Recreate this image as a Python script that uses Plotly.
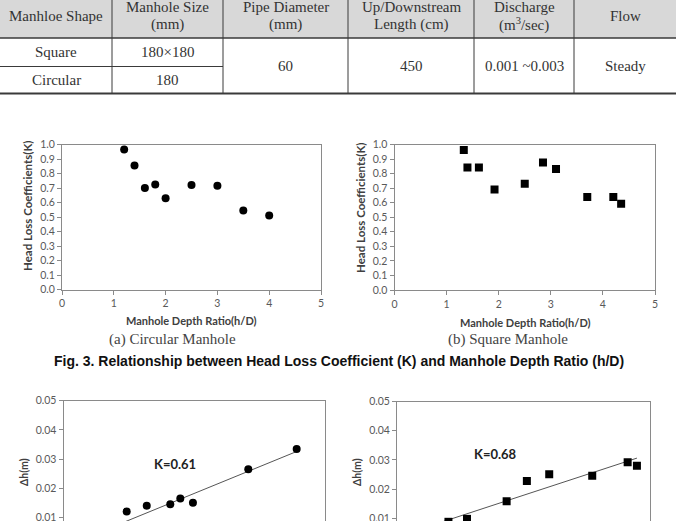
import plotly.graph_objects as go

W, H = 676, 521

# ---------------- Table data ----------------
table_headers = [["Manhloe Shape"], ["Manhole Size", "(mm)"], ["Pipe Diameter", "(mm)"],
                 ["Up/Downstream", "Length (cm)"], ["Discharge", "(m<sup>3</sup>/sec)"], ["Flow"]]
manhole_shapes = ["Square", "Circular"]
manhole_sizes = ["180×180", "180"]
pipe_diameter = "60"
updown_length = "450"
discharge = "0.001 ~0.003"
flow_type = "Steady"

# ---------------- Fig. 3 data ----------------
circ_hd = [1.2, 1.4, 1.6, 1.8, 2.0, 2.5, 3.0, 3.5, 4.0]
circ_K = [0.965, 0.855, 0.70, 0.725, 0.63, 0.72, 0.715, 0.545, 0.51]
sq_hd = [1.33, 1.4, 1.62, 1.92, 2.5, 2.85, 3.1, 3.7, 4.2, 4.35]
sq_K = [0.963, 0.842, 0.842, 0.69, 0.73, 0.876, 0.832, 0.64, 0.64, 0.592]

# ---------------- Fig. 4 data (velocity head vs head loss) ----------------
circ_vh = [0.0145, 0.0191, 0.0245, 0.0268, 0.0297, 0.0424, 0.0535]
circ_dh = [0.0121, 0.0141, 0.0146, 0.0166, 0.0151, 0.0266, 0.0335]
sq_vh = [0.0122, 0.0166, 0.0260, 0.0308, 0.0361, 0.0463, 0.0547, 0.0569]
sq_dh = [0.0088, 0.0098, 0.0158, 0.0228, 0.0251, 0.0246, 0.0292, 0.0280]
circ_trend = (0.61, 0.0)       # slope, intercept
sq_trend = (0.473, 0.0037)
k_labels = ["K=0.61", "K=0.68"]

captions = ["(a) Circular Manhole", "(b) Square Manhole"]
fig_caption = "Fig. 3. Relationship between Head Loss Coefficient (K) and Manhole Depth Ratio (h/D)"


def px(x):
    return x / W


def py(y):
    return 1 - y / H


fig = go.Figure()

# ---------- table drawn with shapes/annotations ----------
col_edges = [0, 112, 223, 348, 474, 574, 676]
hdr_bottom, row_mid, tbl_bottom = 38, 66.5, 93.5
shapes = []
annotations = []
shapes.append(dict(type="rect", xref="paper", yref="paper", x0=0, x1=1,
                   y0=py(hdr_bottom), y1=1, fillcolor="#d8d8d8", line=dict(width=0), layer="below"))
for xe in col_edges[1:-1]:
    shapes.append(dict(type="line", xref="paper", yref="paper", x0=px(xe), x1=px(xe),
                       y0=py(0), y1=py(tbl_bottom), line=dict(color="#3a3a3a", width=1)))
shapes.append(dict(type="line", xref="paper", yref="paper", x0=0, x1=1,
                   y0=py(hdr_bottom), y1=py(hdr_bottom), line=dict(color="#3a3a3a", width=1.5)))
shapes.append(dict(type="line", xref="paper", yref="paper", x0=0, x1=px(col_edges[2]),
                   y0=py(row_mid), y1=py(row_mid), line=dict(color="#3a3a3a", width=1)))
shapes.append(dict(type="line", xref="paper", yref="paper", x0=0, x1=1,
                   y0=py(tbl_bottom), y1=py(tbl_bottom), line=dict(color="#3a3a3a", width=2)))

serif = dict(family="Liberation Serif", size=15, color="#333333")


def put(text, xc, yc, font, **kw):
    d = dict(text=text, x=px(xc), y=py(yc), xref="paper", yref="paper", showarrow=False,
             font=font, xanchor="center", yanchor="middle")
    d.update(kw)
    annotations.append(d)


for i, lines in enumerate(table_headers):
    xc = (col_edges[i] + col_edges[i + 1]) / 2
    if len(lines) == 1:
        put(lines[0], xc, 15.5, serif)
    else:
        put(lines[0], xc, 7.5, serif)
        put(lines[1], xc, 24.5, serif)

row_centers = [(hdr_bottom + row_mid) / 2, (row_mid + tbl_bottom) / 2]
for r in range(2):
    for c, txt in enumerate([manhole_shapes[r], manhole_sizes[r]]):
        xc = (col_edges[c] + col_edges[c + 1]) / 2
        put(txt, xc, row_centers[r], serif)
for c, txt in zip(range(2, 6), [pipe_diameter, updown_length, discharge, flow_type]):
    xc = (col_edges[c] + col_edges[c + 1]) / 2
    put(txt, xc, (hdr_bottom + tbl_bottom) / 2, serif)

# ---------- scatter traces ----------
fig.add_trace(go.Scatter(x=circ_hd, y=circ_K, mode="markers", xaxis="x", yaxis="y",
                         marker=dict(symbol="circle", size=8, color="black"), showlegend=False))
fig.add_trace(go.Scatter(x=sq_hd, y=sq_K, mode="markers", xaxis="x2", yaxis="y2",
                         marker=dict(symbol="square", size=8, color="black"), showlegend=False))

for (vh, dh, trend, sym, xa, ya) in [(circ_vh, circ_dh, circ_trend, "circle", "x3", "y3"),
                                      (sq_vh, sq_dh, sq_trend, "square", "x4", "y4")]:
    xs = [0, max(vh)]
    ys = [trend[0] * v + trend[1] for v in xs]
    fig.add_trace(go.Scatter(x=xs, y=ys, mode="lines", xaxis=xa, yaxis=ya,
                             line=dict(color="#555555", width=1), showlegend=False))
    fig.add_trace(go.Scatter(x=vh, y=dh, mode="markers", xaxis=xa, yaxis=ya,
                             marker=dict(symbol=sym, size=8, color="black"), showlegend=False))

tickfont = dict(family="Lato", size=10.5, color="#595959")
base = dict(showline=True, linecolor="#8a8a8a", linewidth=1, mirror=True, ticks="outside",
            ticklen=4, tickcolor="#8a8a8a", showgrid=False, zeroline=False,
            tickfont=tickfont, automargin=False)

layout_axes = dict(
    xaxis=dict(base, domain=[px(62), px(321)], range=[0, 5], dtick=1, anchor="y"),
    yaxis=dict(base, domain=[py(289.5), py(144.5)], range=[0, 1], dtick=0.1, tickformat=".1f", anchor="x"),
    xaxis2=dict(base, domain=[px(394.5), px(655)], range=[0, 5], dtick=1, anchor="y2"),
    yaxis2=dict(base, domain=[py(290), py(144.5)], range=[0, 1], dtick=0.1, tickformat=".1f", anchor="x2"),
    xaxis3=dict(base, domain=[px(63.5), px(325)], range=[0, 0.06], anchor="y3",
                showticklabels=False, ticks=""),
    yaxis3=dict(base, domain=[0, py(400.7)], range=[0.05 - (H - 400.7) / 2925, 0.05], dtick=0.01,
                tickformat=".2f", anchor="x3", ticklabeloverflow="allow"),
    xaxis4=dict(base, domain=[px(397), px(650)], range=[0, 0.06], anchor="y4",
                showticklabels=False, ticks=""),
    yaxis4=dict(base, domain=[0, py(401.5)], range=[0.05 - (H - 401.5) / 2920, 0.05], dtick=0.01,
                tickformat=".2f", anchor="x4", ticklabeloverflow="allow"),
)

ytitle_font = dict(family="Lato", size=11.5, color="#404040", weight="bold")
xtitle_font = dict(family="Lato", size=11, color="#404040", weight="bold")
dh_font = dict(family="Lato", size=10.5, color="#404040", weight="bold")
put("Head Loss Coefficients(K)", 27, 206, ytitle_font, textangle=-90)
put("Manhole Depth Ratio(h/D)", 191, 320.5, xtitle_font)
put("Head Loss Coefficients(K)", 360, 208, ytitle_font, textangle=-90)
put("Manhole Depth Ratio(h/D)", 525, 322, xtitle_font)
put("Δh(m)", 24, 472, dh_font, textangle=-90)
put("Δh(m)", 357, 472, dh_font, textangle=-90)

kfont = dict(family="Lato", size=13, color="#222222", weight="bold")
put(k_labels[0], 175, 463.5, kfont)
put(k_labels[1], 495, 454, kfont)

capfont = dict(family="Liberation Serif", size=15, color="#444444")
put(captions[0], 172, 339, capfont)
put(captions[1], 508, 339, capfont)
put(fig_caption, 339, 361, dict(family="Liberation Sans", size=14, color="#111111", weight="bold"))

fig.update_layout(
    width=W, height=H, margin=dict(l=0, r=0, t=0, b=0),
    paper_bgcolor="white", plot_bgcolor="white", template="none",
    shapes=shapes, annotations=annotations, **layout_axes,
)

fig.write_html("out.html")
